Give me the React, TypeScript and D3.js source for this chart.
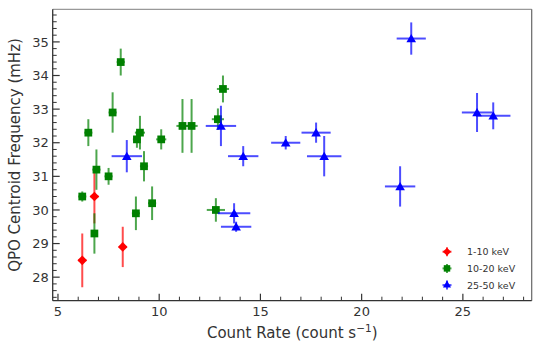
import React from "react";
import * as d3 from "d3";

// 1-10 keV
const redX = [6.2, 6.8, 8.2];
const redY = [28.5, 30.4, 28.9];
const redXErr = [0.2, 0.2, 0.2];
const redYErr = [0.8, 0.8, 0.6];

// 10-20 keV
const greenX = [6.2, 6.5, 6.8, 6.9, 7.5, 7.7, 8.1, 8.85, 8.9, 9.05, 9.25, 9.65, 10.1, 11.15, 11.6, 12.8, 12.9, 13.15];
const greenY = [30.4, 32.3, 29.3, 31.2, 31.0, 32.9, 34.4, 29.9, 32.1, 32.3, 31.3, 30.2, 32.1, 32.5, 32.5, 30.0, 32.7, 33.6];
const greenXErr = [0.2, 0.2, 0.15, 0.2, 0.2, 0.2, 0.2, 0.2, 0.2, 0.25, 0.2, 0.2, 0.25, 0.3, 0.3, 0.45, 0.3, 0.3];
const greenYErr = [0.15, 0.4, 0.6, 0.6, 0.25, 0.6, 0.4, 0.5, 0.25, 0.5, 0.45, 0.5, 0.3, 0.8, 0.8, 0.35, 0.32, 0.4];

// 25-50 keV
const blueX = [8.4, 13.05, 13.7, 13.8, 14.15, 16.25, 17.75, 18.15, 21.9, 22.45, 25.7, 26.5];
const blueY = [31.6, 32.5, 29.9, 29.5, 31.6, 32.0, 32.3, 31.6, 30.7, 35.1, 32.9, 32.8];
const blueXErr = [0.75, 0.75, 0.8, 0.75, 0.75, 0.72, 0.72, 0.85, 0.75, 0.72, 0.75, 0.85];
const blueYErr = [0.48, 0.6, 0.3, 0.15, 0.3, 0.2, 0.3, 0.6, 0.6, 0.48, 0.58, 0.4];

const xMajor = [5, 10, 15, 20, 25];
const yMajor = [28, 29, 30, 31, 32, 33, 34, 35];

const W = 540;
const H = 355;
const L = 52.7, R = 531.7, T = 9.3, B = 300.7;

const series = [
  { label: "1-10 keV", color: "#ff0000", shape: d3.symbolDiamond2, size: 60, xs: redX, ys: redY, xe: redXErr, ye: redYErr },
  { label: "10-20 keV", color: "#008000", shape: d3.symbolSquare, size: 60, xs: greenX, ys: greenY, xe: greenXErr, ye: greenYErr },
  { label: "25-50 keV", color: "#0000ff", shape: d3.symbolTriangle, size: 40, xs: blueX, ys: blueY, xe: blueXErr, ye: blueYErr },
];

export default function App() {
  const x = d3.scaleLinear().domain([4.74, 28.4]).range([L, R]);
  const y = d3.scaleLinear().domain([27.3, 35.97]).range([B, T]);

  const xMinor = d3.range(5, 29, 1).filter((v) => !xMajor.includes(v));
  const yMinor = d3.range(274, 360, 2).map((v) => v / 10).filter((v) => !yMajor.includes(v));

  const font = "DejaVu Sans, sans-serif";

  return (
    <svg width={W} height={H} style={{ position: "fixed", left: 0, top: 0, background: "#fff" }} fontFamily={font}>
      {/* frame */}
      <line x1={L} x2={R} y1={T} y2={T} stroke="#999" strokeWidth={1.2} />
      <line x1={R} x2={R} y1={T} y2={B} stroke="#666" strokeWidth={1.2} />

      {/* ticks */}
      {xMajor.map((v) => (
        <g key={"xm" + v}>
          <line x1={x(v)} x2={x(v)} y1={B} y2={B - 7} stroke="#333" strokeWidth={1.2} />
          <text x={x(v)} y={B + 15.5} fontSize={13} textAnchor="middle" fill="#333">{v}</text>
        </g>
      ))}
      {xMinor.map((v) => (
        <line key={"xn" + v} x1={x(v)} x2={x(v)} y1={B} y2={B - 4} stroke="#333" strokeWidth={1} />
      ))}
      {yMajor.map((v) => (
        <g key={"ym" + v}>
          <line x1={L} x2={L + 7} y1={y(v)} y2={y(v)} stroke="#333" strokeWidth={1.2} />
          <text x={L - 4} y={y(v) + 4.7} fontSize={13} textAnchor="end" fill="#333">{v}</text>
        </g>
      ))}
      {yMinor.map((v) => (
        <line key={"yn" + v} x1={L} x2={L + 4} y1={y(v)} y2={y(v)} stroke="#333" strokeWidth={1} />
      ))}

      {/* data */}
      {series.map((s) => (
        <g key={s.label}>
          {s.xs.map((xv, i) => (
            <g key={i} stroke={s.color} strokeOpacity={0.7} strokeWidth={2}>
              <line x1={x(xv - s.xe[i])} x2={x(xv + s.xe[i])} y1={y(s.ys[i])} y2={y(s.ys[i])} />
              <line x1={x(xv)} x2={x(xv)} y1={y(s.ys[i] - s.ye[i])} y2={y(s.ys[i] + s.ye[i])} />
            </g>
          ))}
          {s.xs.map((xv, i) => (
            <path
              key={"m" + i}
              d={d3.symbol(s.shape, s.size)() as string}
              transform={`translate(${x(xv)},${y(s.ys[i]) + (s.shape === d3.symbolTriangle ? 1 : 0)})`}
              fill={s.color}
            />
          ))}
        </g>
      ))}

      {/* axes */}
      <line x1={L} x2={L} y1={T} y2={B} stroke="#333" strokeWidth={1.3} />
      <line x1={L} x2={R} y1={B} y2={B} stroke="#333" strokeWidth={1.3} />

      {/* legend */}
      {series.map((s, i) => (
        <g key={"lg" + i} transform={`translate(447,${251.7 + i * 16.7})`}>
          <line x1={-4.5} x2={4.5} y1={0} y2={0} stroke={s.color} strokeOpacity={0.7} strokeWidth={2} />
          <line x1={0} x2={0} y1={-4.5} y2={4.5} stroke={s.color} strokeOpacity={0.7} strokeWidth={2} />
          <path d={d3.symbol(s.shape, s.size * 0.7)() as string} fill={s.color} />
          <text x={20} y={3.5} fontSize={9.5} fill="#333">{s.label}</text>
        </g>
      ))}

      {/* labels */}
      <text x={(L + R) / 2} y={338} fontSize={15} textAnchor="middle" fill="#333">
        Count Rate (count s<tspan dy={-6} fontSize={10.5}>−1</tspan><tspan dy={6}>)</tspan>
      </text>
      <text transform={`translate(20,${(T + B) / 2}) rotate(-90)`} fontSize={15} textAnchor="middle" fill="#333">
        QPO Centroid Frequency (mHz)
      </text>
    </svg>
  );
}
